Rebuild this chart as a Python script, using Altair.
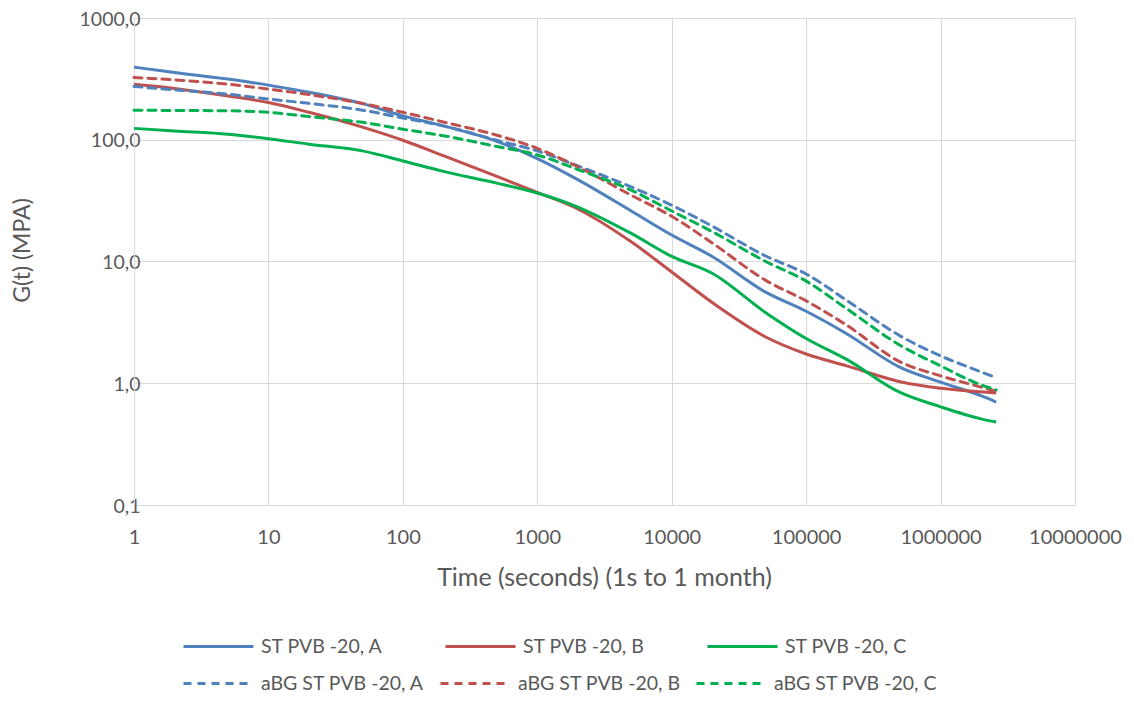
import altair as alt
import pandas as pd

# ---- data ----
time_s = [1, 2, 5, 10, 20, 50, 100, 200, 500, 1000, 2000, 5000, 10000, 20000,
          50000, 100000, 200000, 500000, 1000000, 2000000, 2592000]

st_a = [395, 357, 315, 281, 246, 198, 157, 130, 97, 70, 47, 26, 16.5, 11,
        5.6, 3.9, 2.55, 1.35, 1.02, 0.79, 0.70]
st_b = [286, 264, 229, 202, 168, 127, 99, 74, 50, 37, 27, 14.5, 8.2, 4.6,
        2.4, 1.74, 1.39, 1.03, 0.91, 0.85, 0.83]
st_c = [124, 118, 111, 102, 92, 81, 67, 55, 44, 36.5, 28, 17, 11, 8.0,
        3.8, 2.33, 1.57, 0.84, 0.64, 0.51, 0.48]
abg_a = [274, 257, 237, 216, 199, 175, 151, 130, 99, 81, 61, 41, 29, 19.5,
         11.1, 7.9, 4.8, 2.45, 1.68, 1.24, 1.11]
abg_b = [325, 310, 286, 261, 235, 199, 168, 140, 109, 85, 60, 35, 23.5, 14.2,
         7.0, 4.75, 3.0, 1.5, 1.15, 0.93, 0.86]
abg_c = [175, 174, 173, 168, 155, 139, 122, 108, 88, 75, 57, 38.5, 26, 17.6,
         10, 6.9, 4.1, 2.05, 1.39, 0.97, 0.88]

solid_names = ["ST PVB -20, A", "ST PVB -20, B", "ST PVB -20, C"]
dashed_names = ["aBG ST PVB -20, A", "aBG ST PVB -20, B", "aBG ST PVB -20, C"]
colors = ["#4F81BD", "#C0504D", "#00B050"]

x_ticks = [1, 10, 100, 1000, 10000, 100000, 1000000, 10000000]
y_ticks = [0.1, 1, 10, 100, 1000]


def long_df(names, series):
    rows = []
    for k, (name, vals) in enumerate(zip(names, series)):
        for t, v in zip(time_s, vals):
            rows.append({"t": t, "g": v, "series": name, "order": k})
    return pd.DataFrame(rows)


solid_df = long_df(solid_names, [st_a, st_b, st_c])
dashed_df = long_df(dashed_names, [abg_a, abg_b, abg_c])

FONT = "Lato"
GREY = "#595959"
GRID = "#d9d9d9"
DASH = [8, 6]

x_enc = alt.X(
    "t:Q",
    scale=alt.Scale(type="log", domain=[1, 10000000], nice=False),
    axis=alt.Axis(
        title="Time (seconds) (1s to 1 month)", values=x_ticks, format="d",
        grid=True, gridColor=GRID, gridWidth=1, domainColor=GRID, domainWidth=1,
        ticks=False, tickSize=0, labelFont=FONT, labelFontSize=20, labelColor=GREY,
        labelPadding=22, labelFlush=False, labelOverlap=False,
        titleFont=FONT, titleFontSize=25, titleFontWeight="normal", titleColor=GREY,
        titleX=470, titleY=72, titleBaseline="middle",
    ),
)
y_enc = alt.Y(
    "g:Q",
    scale=alt.Scale(type="log", domain=[0.1, 1000], nice=False),
    axis=alt.Axis(
        title="G(t) (MPA)", values=y_ticks,
        labelExpr="replace(format(datum.value, '.1f'), '.', ',')",
        grid=True, gridColor=GRID, gridWidth=1, domainColor=GRID, domainWidth=1,
        ticks=False, tickSize=0, labelFont=FONT, labelFontSize=19.5, labelColor=GREY,
        labelPadding=-6, labelOffset=1, labelFlush=False, labelOverlap=False,
        titleFont=FONT, titleFontSize=23, titleFontWeight="normal", titleColor=GREY,
        titleAngle=270, titleX=-112, titleY=232, titleBaseline="middle", titleAlign="center",
    ),
)

legend_common = dict(
    orient="none", direction="horizontal", columns=3, title=None,
    symbolType="stroke", symbolSize=4900, symbolStrokeWidth=3,
    labelFont=FONT, labelFontSize=19.5, labelColor=GREY, labelLimit=0,
    labelOffset=6, padding=0,
)

solid = alt.Chart(solid_df).mark_line(strokeWidth=3, interpolate="monotone").encode(
    x=x_enc, y=y_enc,
    color=alt.Color("series:N", scale=alt.Scale(domain=solid_names, range=colors),
                    legend=alt.Legend(legendX=48, legendY=592, columnPadding=56,
                                      **legend_common)),
    order="order:Q",
)

dashed = alt.Chart(dashed_df).mark_line(
    strokeWidth=3, interpolate="monotone", strokeDash=DASH, strokeCap="round"
).encode(
    x=x_enc, y=y_enc,
    color=alt.Color("series:N", scale=alt.Scale(domain=dashed_names, range=colors),
                    legend=alt.Legend(legendX=48, legendY=629, columnPadding=9,
                                      symbolDash=DASH, **legend_common)),
    order="order:Q",
)

chart = alt.layer(solid, dashed).resolve_scale(color="independent").properties(
    width=941, height=487,
    autosize=alt.AutoSizeParams(type="none"),
    padding={"left": 126, "top": 10, "right": 50, "bottom": 188},
    background="white",
).configure_view(stroke=None)

chart.save("out.html", embed_options={"renderer": "svg", "actions": False})
